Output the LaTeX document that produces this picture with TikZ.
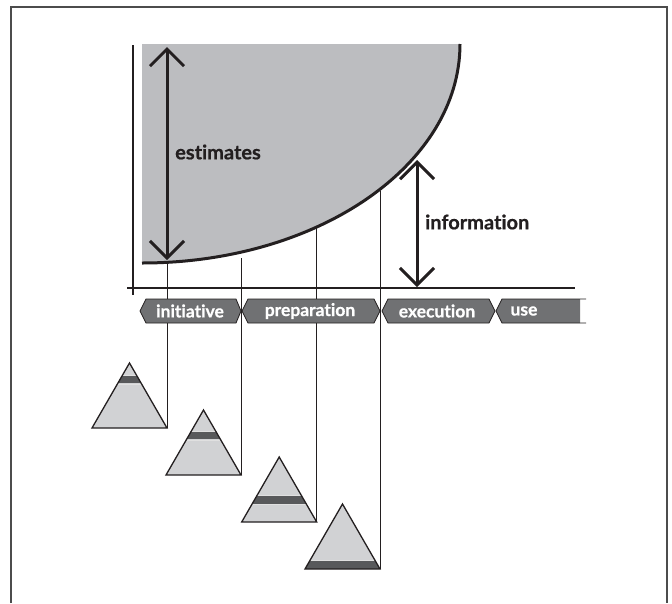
\documentclass[tikz,border=0pt]{standalone}
\usepackage{fontspec}
\setmainfont{Lato}[RawFeature=-liga, BoldFeatures={FakeBold=0.6}]
\usetikzlibrary{arrows.meta}

\definecolor{areagray}{HTML}{BCBDC0}
\definecolor{phasegray}{HTML}{707173}
\definecolor{trifill}{HTML}{D1D2D4}
\definecolor{bandgray}{HTML}{58595B}
\definecolor{inkdark}{HTML}{231F20}

\tikzset{
  frameline/.style={line width=1.5pt, draw=black!70},
  axisline/.style={line width=1.2pt, draw=inkdark},
  curveline/.style={line width=3pt, draw=inkdark},
  guide/.style={line width=0.8pt, draw=inkdark},
  bigarrow/.style={line width=3pt, draw=inkdark,
    {Straight Barb[length=17pt,width=34pt]}-{Straight Barb[length=17pt,width=34pt]}},
  biglabel/.style={font=\fontsize{20}{24}\selectfont\bfseries, text=inkdark, inner sep=0pt},
  phasebox/.style={fill=phasegray, draw=inkdark, line width=0.8pt},
  phaselabel/.style={font=\fontsize{17.5}{20}\selectfont\bfseries, text=white, inner sep=0pt},
  triangle/.style={draw=inkdark, line width=1.3pt, line join=miter},
  bandedge/.style={draw=white!88!black, line width=0.5pt},
}

\begin{document}
\begin{tikzpicture}[x=1pt, y=-1pt]
\useasboundingbox (0,0) rectangle (672,603);

% open frame
\draw[frameline] (11,603) -- (11,7) -- (667,7) -- (667,603);

% shaded region under the estimate curve
\fill[areagray] (142,44) -- (460,44) arc[start angle=0, end angle=-90, x radius=318pt, y radius=219pt] -- cycle;

% points on the curve
\coordinate (c1) at (167,262);
\coordinate (c2) at (241,258);
\coordinate (c3) at (316.7,228);
\coordinate (c4) at (380,191);

% right corners of the four triangles
\coordinate (t1) at (167,428);
\coordinate (t2) at (241,475);
\coordinate (t3) at (316.7,522);
\coordinate (t4) at (380,569);

% guide lines from curve to triangles
\foreach \i in {1,2,3,4} \draw[guide] (c\i) -- (t\i);

% axes
\draw[axisline] (133,45) -- (133,295);
\draw[axisline] (127,288) -- (575,288);

% the curve itself
\draw[curveline] (460,44) arc[start angle=0, end angle=-90, x radius=318pt, y radius=219pt];

% arrows
\coordinate (esttop) at (167,47);
\coordinate (estbot) at (167,260);
\coordinate (inftop) at (417,160);
\coordinate (infbot) at (417,287);
\draw[bigarrow] (esttop) -- (estbot);
\draw[bigarrow] (inftop) -- (infbot);
\node[biglabel, anchor=west] (est) at (175,152) {estimates};
\node[biglabel, anchor=west] (inf) at (425,222) {information};

% phases
\draw[phasebox] (140,311) -- (146,299) -- (236,299) -- (241,311) -- (236,323) -- (146,323) -- cycle;
\draw[phasebox] (242,311) -- (248,299) -- (374,299) -- (380,311) -- (374,323) -- (248,323) -- cycle;
\draw[phasebox] (382,311) -- (388,299) -- (489,299) -- (495,311) -- (489,323) -- (388,323) -- cycle;
\fill[phasegray] (496,311) -- (502,299) -- (580,299) -- (580,323) -- (502,323) -- cycle;
\draw[inkdark, line width=0.8pt] (586,299) -- (502,299) -- (496,311) -- (502,323) -- (586,323);
\node[phaselabel] (p1) at (190,311) {initiative};
\node[phaselabel] (p2) at (310,311) {preparation};
\node[phaselabel] (p3) at (437,311) {execution};
\node[phaselabel] (p4) at (524,311) {use};

% triangles: right corner x, base y, band from/to (fraction of height)
\foreach \rx/\by/\ba/\bb in {167/428/0.19/0.31, 241/475/0.33/0.45, 316.7/522/0.60/0.72, 380/569/0.88/1.0}{
  \begin{scope}
    \path[clip] (\rx-75,\by) -- (\rx-37.5,\by-65) -- (\rx,\by) -- cycle;
    \fill[trifill] (\rx-80,\by+5) rectangle (\rx+5,\by-70);
    \fill[bandgray] (\rx-80,\by-65+65*\ba) rectangle (\rx+5,\by-65+65*\bb);
    \draw[bandedge] (\rx-80,\by-65.6+65*\ba) -- (\rx+5,\by-65.6+65*\ba);
    \draw[bandedge] (\rx-80,\by-64.4+65*\bb) -- (\rx+5,\by-64.4+65*\bb);
  \end{scope}
  \draw[triangle] (\rx-75,\by) -- (\rx-37.5,\by-65) -- (\rx,\by) -- cycle;
}
\end{tikzpicture}
\end{document}
